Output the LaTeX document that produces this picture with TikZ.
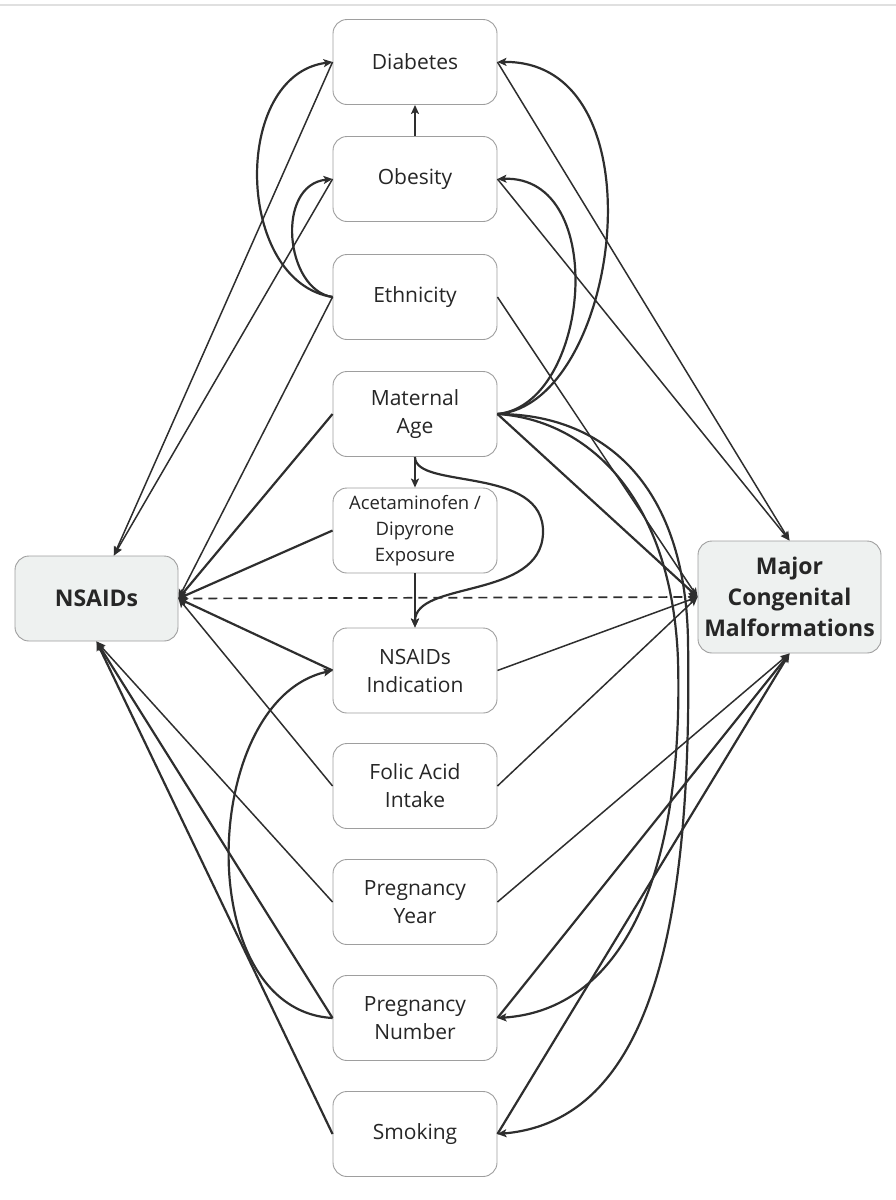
\documentclass[tikz,border=0pt]{standalone}
\usepackage{fontspec}
\setmainfont{Open Sans}
\usetikzlibrary{arrows.meta}

\definecolor{linegray}{HTML}{2E2E2E}
\definecolor{boxline}{HTML}{9E9E9E}
\definecolor{keyfill}{HTML}{EEF1F0}

\tikzset{
  var/.style={draw=boxline,line width=0.9pt,rounded corners=14pt,fill=white,
    minimum width=164pt,minimum height=85pt,align=center,text=black!85,
    font=\fontsize{21}{28}\selectfont},
  key/.style={var,fill=keyfill,font=\bfseries\fontsize{23}{31}\selectfont},
  thinarr/.style={draw=linegray,line width=1.5pt,
    -{Stealth[length=9pt,width=8pt,inset=2pt]}},
  thickarr/.style={thinarr,line width=2.2pt},
}

\begin{document}
\begin{tikzpicture}[x=1pt,y=-1pt]

      \useasboundingbox (0,0) rectangle (896,1200);
      \draw[black!12,line width=1.5pt] (0,5) -- (896,5);

      \begin{scope}[every node/.style={var}]
        \node (1)  at (415,62)   {Diabetes};
        \node (2)  at (415,179)  {Obesity};
        \node (3)  at (415,297)  {Ethnicity};
        \node (4)  at (415,414)  {Maternal\\Age};
        \node[font=\fontsize{18.5}{25.7}\selectfont]
              (5)  at (415,530.5) {Acetaminofen /\\Dipyrone\\Exposure};
        \node (6)  at (415,670.5) {NSAIDs\\Indication};
        \node (7)  at (415,786)  {Folic Acid\\Intake};
        \node (8)  at (415,902)  {Pregnancy\\Year};
        \node (9)  at (415,1018) {Pregnancy\\Number};
        \node (10) at (415,1134) {Smoking};
        \node[key,minimum width=163pt] (11) at (96.5,598.5) {NSAIDs};
        \node[key,minimum width=183pt,minimum height=112pt]
              (12) at (789.5,597) {Major\\Congenital\\Malformations};
      \end{scope}

      \begin{scope}[every edge/.style={thinarr}]
        \path (1.west)  edge (11.68);
        \path (2.west)  edge (11.68);
        \path (3.west)  edge (11.east);
        \path (7.west)  edge (11.east);
        \path (8.west)  edge (11.south);
        \path (1.east)  edge (12.north);
        \path (2.east)  edge (12.north);
        \path (3.east)  edge (12.west);
        \path (6.east)  edge (12.west);
        \path (7.east)  edge (12.west);
        \path (8.east)  edge (12.south);
      \end{scope}

      \begin{scope}[every edge/.style={thickarr}]
        \path (2.north) edge (1.south);
        \path (4.south) edge (5.north);
        \path (5.south) edge (6.north);
        \path (4.west)  edge (11.east);
        \path (5.west)  edge (11.east);
        \path (6.west)  edge (11.east);
        \path (9.west)  edge (11.south);
        \path (10.west) edge (11.south);
        \path (4.east)  edge (12.west);
        \path (9.east)  edge (12.south);
        \path (10.east) edge (12.south);
        \path (11.east) edge[line width=1.7pt,dash pattern=on 9pt off 6pt] (12.west);
      \end{scope}

      \draw[thickarr] (3.west) .. controls (235,282) and (231,75) .. (1.west);
      \draw[thickarr] (3.west) .. controls (285,290) and (275,185) .. (2.west);
      \draw[thickarr] (4.east) .. controls (620,405) and (665,60) .. (1.east);
      \draw[thickarr] (4.east) .. controls (590,405) and (610,175) .. (2.east);
      \draw[thickarr] (4.east) .. controls (590,420) and (672,500) .. (678,660)
                               .. controls (684,880) and (620,1010) .. (9.east);
      \draw[thickarr] (4.east) .. controls (600,414) and (685,480) .. (688,640)
                               .. controls (692,900) and (660,1120) .. (10.east);
      \draw[thickarr] (4.south) .. controls (415,490) and (545,465) .. (543,533)
                                .. controls (541,600) and (415,580) .. (6.north);
      \draw[thickarr] (9.west) .. controls (190,1010) and (200,700) .. (6.west);

\end{tikzpicture}
\end{document}
